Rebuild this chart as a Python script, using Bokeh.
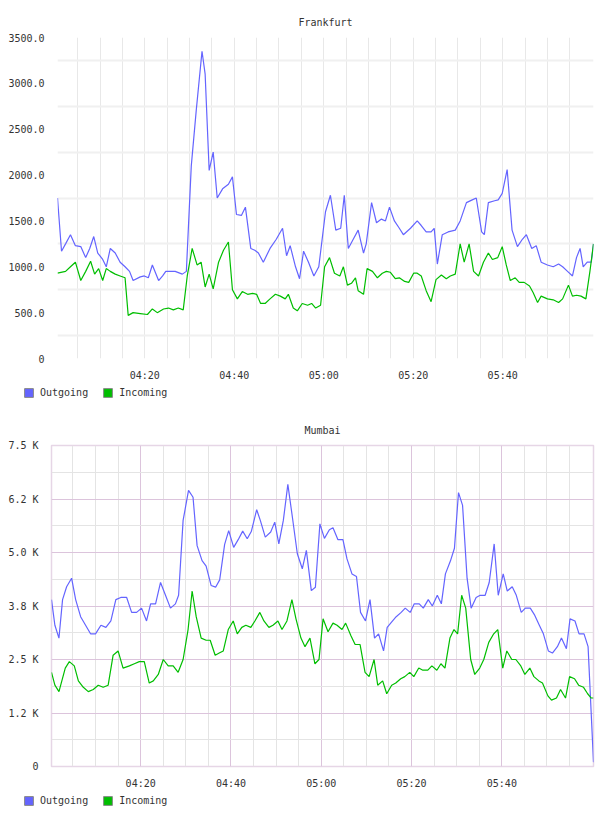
from bokeh.plotting import figure
from bokeh.models import Range1d, FixedTicker, DatetimeTickFormatter, Legend, LegendItem
from bokeh.embed import file_html
from bokeh.resources import INLINE

# 2024-01-01 04:00 UTC in ms; all times below are minutes after 04:00
BASE_MS = 1704081600000.0

# ---- Frankfurt ----
fra_out_t = [0.5, 1.4, 2.3, 3.4, 4.5, 5.7, 6.8, 7.7, 8.6, 9.5, 10.6, 11.4, 12.3, 13.4, 14.5, 15.6, 16.6, 17.4,
             19.0, 19.9, 20.8, 21.7, 23.1, 24.0, 24.7, 26.8, 28.4, 29.3, 30.4, 31.5, 32.8, 33.5, 34.4, 35.3,
             36.2, 37.4, 38.7, 39.6, 40.5, 41.6, 42.5, 43.7, 44.6, 45.4, 46.5, 48.0, 49.4, 50.8, 51.7, 52.5,
             53.7, 54.6, 55.5, 56.6, 57.8, 58.9, 60.4, 61.5, 62.7, 63.8, 64.6, 65.5, 66.6, 67.7, 68.9, 69.5,
             70.7, 71.8, 72.9, 73.8, 74.7, 75.8, 76.9, 77.8, 79.4, 80.9, 81.8, 82.9, 84.0, 84.7, 85.4, 86.5,
             87.8, 89.4, 90.5, 91.9, 93.2, 94.1, 95.3, 95.9, 96.8, 98.2, 99.0, 99.9, 101.0, 102.1, 103.3,
             104.4, 105.3, 106.5, 107.5, 108.6, 110.0, 111.3, 112.5, 113.4, 114.5, 115.6, 116.5, 117.3,
             118.0, 118.9, 119.8, 120.3]
fra_out = [1750, 1170, 1250, 1350, 1230, 1220, 1100, 1200, 1330, 1150, 1080, 1000, 1200, 1150, 1050, 1000, 950, 850,
           890, 900, 880, 1020, 850, 900, 950, 950, 920, 950, 2100, 2700, 3350, 3100, 2050, 2250,
           1750, 1850, 1900, 1980, 1570, 1560, 1650, 1200, 1180, 1150, 1050, 1200, 1300, 1420, 1120, 1230,
           1000, 870, 1170, 1050, 900, 1000, 1600, 1780, 1400, 1420, 1780, 1200, 1300, 1400, 1150, 1250,
           1700, 1480, 1520, 1500, 1650, 1500, 1420, 1350, 1420, 1500, 1450, 1380, 1380, 1420, 1030, 1350,
           1380, 1400, 1500, 1700, 1730, 1750, 1380, 1350, 1700, 1720, 1730, 1800, 2060, 1400, 1220,
           1300, 1350, 1200, 1230, 1050, 1020, 1000, 1030, 1000, 950, 900, 1100, 1200,
           1000, 1050, 1050, 1250]
fra_in_t = [0.5, 2.3, 3.4, 4.5, 5.7, 6.8, 7.9, 8.8, 9.7, 10.6, 11.4, 12.3, 13.4, 14.5, 15.6, 16.3, 17.4, 19.0,
            20.6, 21.7, 22.8, 24.2, 25.3, 26.4, 27.5, 28.6, 29.5, 30.6, 31.7, 32.6, 33.5, 34.4, 35.3, 36.5,
            37.6, 38.7, 39.6, 40.7, 41.8, 43.0, 44.1, 45.0, 45.9, 46.9, 48.0, 49.2, 50.3, 51.4, 52.1, 53.2,
            54.1, 55.2, 56.4, 57.3, 58.2, 59.3, 60.2, 61.3, 62.4, 63.6, 64.4, 65.3, 66.2, 67.1, 67.7, 68.9,
            69.7, 70.9, 72.0, 73.1, 74.0, 74.9, 76.0, 76.9, 78.1, 79.0, 80.1, 80.9, 81.8, 82.9, 84.0, 85.1,
            86.3, 87.4, 88.3, 89.4, 90.5, 91.4, 92.5, 93.5, 94.6, 95.7, 96.8, 97.7, 98.9, 99.9, 100.8,
            101.7, 102.8, 103.7, 104.8, 106.0, 106.8, 107.8, 108.6, 110.0, 111.3, 112.5, 113.4, 114.7,
            115.6, 116.5, 117.5, 118.6, 119.5, 120.3]
fra_in = [930, 950, 1000, 1050, 850, 950, 1060, 920, 980, 850, 980, 950, 920, 900, 880, 470, 500, 490,
          480, 540, 500, 540, 550, 530, 550, 530, 900, 1200, 1020, 1050, 780, 920, 760, 1050,
          1180, 1270, 750, 650, 730, 700, 710, 700, 600, 600, 650, 700, 680, 650, 700, 550,
          520, 600, 580, 600, 550, 580, 1000, 1100, 930, 900, 1000, 800, 820, 880, 740, 700,
          980, 950, 880, 930, 950, 940, 870, 880, 840, 830, 930, 930, 900, 740, 620, 860,
          910, 870, 900, 920, 1250, 1050, 1250, 950, 900, 1050, 1150, 1080, 1100, 1220, 1020,
          850, 880, 830, 830, 790, 720, 610, 680, 650, 640, 610, 650, 800,
          680, 690, 680, 650, 950, 1250]
fra_yticks = [0, 500, 1000, 1500, 2000, 2500, 3000, 3500]
fra_ylabels = ["0", "500.0", "1000.0", "1500.0", "2000.0", "2500.0", "3000.0", "3500.0"]

# ---- Mumbai ----
mum_out_t = [0.25, 1.0, 1.9, 2.7, 3.6, 4.7, 5.6, 6.7, 7.8, 8.9, 10.0, 11.2, 12.3, 13.4, 14.5, 15.6, 16.9, 18.0,
             19.1, 20.2, 21.3, 22.2, 23.3, 24.4, 25.5, 26.6, 27.7, 28.4, 29.4, 30.6, 31.6, 32.5, 33.6, 34.5,
             35.6, 36.6, 37.5, 38.6, 39.5, 40.6, 41.6, 42.6, 43.6, 44.5, 45.7, 46.5, 47.6, 48.8, 49.7, 50.6,
             51.6, 52.6, 53.6, 54.7, 55.8, 56.7, 57.8, 58.7, 59.7, 60.7, 61.8, 62.6, 63.7, 64.8, 65.7, 66.8,
             67.8, 68.7, 69.8, 70.8, 71.8, 72.7, 73.8, 74.6, 75.8, 76.6, 77.7, 78.6, 79.7, 80.6, 81.7, 82.6,
             83.7, 84.6, 85.7, 86.6, 87.5, 88.6, 89.5, 90.4, 91.3, 92.3, 93.2, 94.3, 95.2, 96.3, 97.2, 98.3,
             99.2, 100.3, 101.2, 102.3, 103.2, 104.3, 105.2, 106.3, 107.2, 108.3, 109.2, 110.3, 111.2, 112.3,
             113.2, 114.3, 115.1, 116.2, 117.1, 118.2, 119.1, 120.3]
mum_out = [3900, 3300, 3000, 3900, 4200, 4400, 3900, 3500, 3300, 3100, 3100, 3300, 3250, 3400, 3900, 3950, 3950, 3600,
           3600, 3700, 3400, 3800, 3800, 4300, 4000, 3700, 3800, 4000, 5750, 6450, 6290, 5160, 4810, 4680,
           4230, 4190, 4360, 5190, 5510, 5120, 5300, 5500, 5320, 5490, 6000, 5750, 5360, 5480, 5710, 5200,
           5750, 6590, 5830, 4970, 4620, 5050, 4110, 4190, 5670, 5330, 5530, 5580, 5300, 5300, 4850, 4500,
           4440, 3600, 3400, 3900, 3000, 3100, 2700, 3250, 3400, 3500, 3600, 3700, 3600, 3800, 3800, 3700,
           3900, 3750, 4000, 3800, 4500, 4800, 5100, 6400, 6100, 4400, 3700, 3950, 4000, 4000, 4300, 5200,
           4000, 4500, 4100, 4200, 4000, 3600, 3700, 3700, 3550, 3300, 3100, 2700, 2650, 2800,
           3000, 2750, 3450, 3400, 3100, 3100, 2800, 100]
mum_in_t = [0.25, 1.0, 1.9, 3.3, 4.2, 5.3, 6.2, 7.3, 8.4, 9.5, 10.6, 11.7, 12.8, 13.9, 15.0, 16.1, 17.5, 18.6,
            19.7, 20.8, 21.9, 22.8, 23.9, 25.0, 26.1, 27.2, 28.3, 29.4, 30.5, 31.4, 32.3, 33.4, 34.5, 35.4,
            36.5, 37.4, 38.3, 39.4, 40.5, 41.4, 42.4, 43.3, 44.4, 45.3, 46.4, 47.3, 48.4, 49.3, 50.4, 51.3,
            52.4, 53.5, 54.4, 55.5, 56.4, 57.5, 58.6, 59.5, 60.4, 61.5, 62.6, 63.5, 64.6, 65.4, 66.6, 67.5,
            68.6, 69.7, 70.6, 71.7, 72.5, 73.6, 74.5, 75.6, 76.5, 77.6, 78.5, 79.6, 80.5, 81.6, 82.5, 83.6,
            84.5, 85.6, 86.5, 87.4, 88.5, 89.4, 90.2, 91.1, 92.0, 93.1, 94.0, 95.1, 96.0, 97.1, 98.2, 99.1,
            100.2, 101.1, 102.2, 103.1, 104.2, 105.1, 106.2, 107.1, 108.2, 109.0, 110.2, 111.0, 112.1,
            113.0, 114.1, 115.0, 116.1, 117.0, 118.1, 119.0, 119.8, 120.3]
mum_in = [2200, 1900, 1750, 2300, 2450, 2350, 2000, 1850, 1750, 1800, 1900, 1850, 1900, 2600, 2700, 2300, 2350, 2400,
          2450, 2450, 1950, 2000, 2150, 2500, 2350, 2350, 2200, 2500, 3200, 4100, 3500, 3000, 2950, 2950,
          2600, 2650, 2700, 3200, 3400, 3100, 3250, 3300, 3250, 3400, 3600, 3400, 3250, 3300, 3400, 3200,
          3400, 3900, 3450, 3000, 2800, 3000, 2400, 2500, 3450, 3150, 3350, 3300, 3200, 3350, 3050, 2850,
          2850, 2200, 2100, 2500, 1900, 2000, 1700, 1900, 1950, 2050, 2100, 2200, 2100, 2300, 2250, 2250,
          2350, 2250, 2400, 2300, 3000, 3200, 3100, 4000, 3700, 2500, 2150, 2300, 2500, 2900, 3100, 3200,
          2300, 2700, 2500, 2500, 2350, 2150, 2300, 2100, 2000, 1950, 1650, 1550, 1600,
          1800, 1600, 2100, 2050, 1900, 1850, 1700, 1600, 1600]
mum_yticks = [0, 1250, 2500, 3750, 5000, 6250, 7500]
mum_ylabels = ["0", "1.2 K", "2.5 K", "3.8 K", "5.0 K", "6.2 K", "7.5 K"]

series_names = ["Outgoing", "Incoming"]

# shared time ticks
label_minutes = [20, 40, 60, 80, 100]
grid_minutes = list(range(5, 120, 5))

OUT_COLOR = "#6464FF"
IN_COLOR = "#00BE00"
FONT = "DejaVu Sans Mono"
TEXT = "#333333"


def ms(m):
    return BASE_MS + m * 60000.0


def make_chart(name, out_t, out_v, in_t, in_v, t0, t1, ymax, yticks, ylabels, left, pink):
    p = figure(width=608, height=383, x_axis_type="datetime", output_backend="svg", toolbar_location=None,
               x_range=Range1d(ms(t0), ms(t1)), y_range=Range1d(0, ymax),
               min_border_left=left, min_border_right=15, min_border_top=37, min_border_bottom=25)
    p.title.text = name
    p.title.align = "center"
    p.title.text_font = FONT
    p.title.text_font_size = "10px"
    p.title.text_font_style = "normal"
    p.title.text_color = TEXT
    p.title.standoff = 19

    # axes
    xa = p.xaxis[0]
    xa.ticker = FixedTicker(ticks=[ms(m) for m in label_minutes])
    xa.formatter = DatetimeTickFormatter(minsec="%H:%M", minutes="%H:%M", hourmin="%H:%M", hours="%H:%M")
    ya = p.yaxis[0]
    ya.ticker = FixedTicker(ticks=yticks)
    ya.major_label_overrides = {t: lab for t, lab in zip(yticks, ylabels)}
    for ax in (xa, ya):
        ax.axis_line_color = None
        ax.major_tick_line_color = None
        ax.minor_tick_line_color = None
        ax.major_label_text_font = FONT
        ax.major_label_text_font_size = "10px"
        ax.major_label_text_color = TEXT
    xa.major_label_standoff = 5
    ya.major_label_standoff = 7

    # grids
    half = [t + (yticks[1] - yticks[0]) / 2 for t in yticks[:-1]]
    if pink:
        major_x = [ms(m) for m in label_minutes]
        minor_x = [ms(m) for m in grid_minutes if m not in label_minutes]
        p.xgrid.ticker = FixedTicker(ticks=major_x, minor_ticks=minor_x)
        p.xgrid.grid_line_color = "#DCC4DC"
        p.xgrid.minor_grid_line_color = "#E4E4E4"
        p.ygrid.ticker = FixedTicker(ticks=yticks, minor_ticks=half)
        p.ygrid.grid_line_color = "#DCC4DC"
        p.ygrid.minor_grid_line_color = "#E4E4E4"
        p.outline_line_color = "#E6D6E6"
        p.outline_line_width = 1.5
    else:
        p.xgrid.ticker = FixedTicker(ticks=[ms(m) for m in grid_minutes])
        p.xgrid.grid_line_color = "#E8E8E8"
        p.ygrid.ticker = FixedTicker(ticks=half)
        p.ygrid.grid_line_color = "#F0F0F0"
        p.ygrid.grid_line_width = 2
        p.outline_line_color = None

    p.line([ms(m) for m in out_t], out_v, line_color=OUT_COLOR, line_width=1.2)
    p.line([ms(m) for m in in_t], in_v, line_color=IN_COLOR, line_width=1.2)
    return p


def make_legend():
    # a thin strip holding the two colour swatches under each chart;
    # the swatch quads sit outside the strip's visible range
    f = figure(width=608, height=25, output_backend="svg", toolbar_location=None,
               x_range=Range1d(0, 1), y_range=Range1d(0, 1),
               x_axis_location=None, y_axis_location=None,
               min_border_left=0, min_border_right=0, min_border_top=0, min_border_bottom=0)
    f.grid.visible = False
    f.outline_line_color = None
    sw_out = f.quad(left=[5], right=[6], top=[6], bottom=[5], fill_color=OUT_COLOR, line_color="#888888")
    sw_in = f.quad(left=[5], right=[6], top=[6], bottom=[5], fill_color=IN_COLOR, line_color="#888888")
    legend = Legend(items=[LegendItem(label=series_names[0], renderers=[sw_out]),
                           LegendItem(label=series_names[1], renderers=[sw_in])],
                    orientation="horizontal", location=(23, 10),
                    glyph_width=11, glyph_height=11, label_standoff=6, spacing=14,
                    padding=0, margin=0, border_line_color=None, background_fill_alpha=0,
                    label_text_font=FONT, label_text_font_size="10px", label_text_color=TEXT)
    f.add_layout(legend)
    return f


top = make_chart("Frankfurt", fra_out_t, fra_out, fra_in_t, fra_in, 0.5, 120.3, 3500,
                 fra_yticks, fra_ylabels, 57, False)
bottom = make_chart("Mumbai", mum_out_t, mum_out, mum_in_t, mum_in, 0.25, 120.3, 7500,
                    mum_yticks, mum_ylabels, 51, True)

open("out.html", "w").write(file_html([top, make_legend(), bottom, make_legend()], INLINE))
